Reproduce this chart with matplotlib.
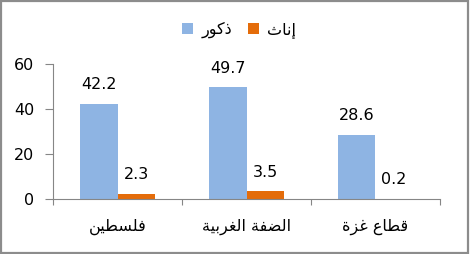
import matplotlib
matplotlib.use("Agg")
import matplotlib.pyplot as plt
from matplotlib.patches import Rectangle
import numpy as np

# Arabic strings stored in visual (shaped, left-to-right) presentation forms
categories = [
    "\uFEE6\uFEF4\uFEC4\uFEB4\uFEE0\uFED3",                                      # فلسطين
    "\uFE94\uFEF4\uFE91\uFEAE\uFED0\uFEDF\uFE8D \uFE94\uFED4\uFEC0\uFEDF\uFE8D",  # الضفة الغربية
    "\uFE93\uFEB0\uFECF \uFEC9\uFE8E\uFEC4\uFED7",                               # قطاع غزة
]
series_names = ["\uFEAD\uFEEE\uFEDB\uFEAB",   # ذكور
                "\uFE99\uFE8E\uFEE7\uFE87"]   # إناث
males = [42.2, 49.7, 28.6]
females = [2.3, 3.5, 0.2]
yticks = [0, 20, 40, 60]

plt.rcParams['font.family'] = ['DejaVu Sans']

W, H = 470, 254
fig = plt.figure(figsize=(W / 100, H / 100), dpi=100)
ax = fig.add_axes([53 / W, (H - 199) / H, (440 - 53) / W, (199 - 64) / H])

x = np.arange(len(categories))
bw = 0.287
c_m, c_f = "#8EB4E3", "#E46C0A"
b1 = ax.bar(x - bw / 2, males, bw, color=c_m, label=series_names[0])
b2 = ax.bar(x + bw / 2, females, bw, color=c_f, label=series_names[1])

for bars, vals in ((b1, males), (b2, females)):
    for r, v in zip(bars, vals):
        ax.annotate(f"{v:.1f}", (r.get_x() + r.get_width() / 2, v),
                    xytext=(0, 10.5), textcoords="offset points",
                    ha="center", va="baseline", fontsize=11.5, color="black")

ax.set_xlim(-0.5, len(categories) - 0.5)
ax.set_ylim(0, 60)
ax.set_yticks(yticks)
ax.set_yticklabels([str(t) for t in yticks], fontsize=11.5)

ax.set_xticks(np.arange(len(categories) + 1) - 0.5)
ax.set_xticklabels([])
ax.set_xticks(x, minor=True)
ax.set_xticklabels(categories, minor=True, fontsize=11.5)
ax.tick_params(axis="x", which="minor", length=0, pad=14)
ax.tick_params(axis="x", which="major", length=4.5, color="#868686", width=0.8)
ax.tick_params(axis="y", length=5.5, color="#868686", width=0.8, pad=8)

for s in ("top", "right"):
    ax.spines[s].set_visible(False)
for s in ("left", "bottom"):
    ax.spines[s].set_color("#868686")
    ax.spines[s].set_linewidth(0.8)

leg = fig.legend(handles=[b1, b2], labels=series_names, ncol=2,
                 loc="center", bbox_to_anchor=(239 / W, 1 - 30 / H),
                 frameon=False, fontsize=11.5, handlelength=0.7, handleheight=0.7,
                 handletextpad=0.5, columnspacing=1.0, borderpad=0)

fig.patches.append(Rectangle((1 / W, 1 / H), 467 / W, 252 / H,
                             transform=fig.transFigure, fill=False,
                             edgecolor="#8C8C8C", linewidth=1.6))

fig.savefig("out.png", dpi=100)
